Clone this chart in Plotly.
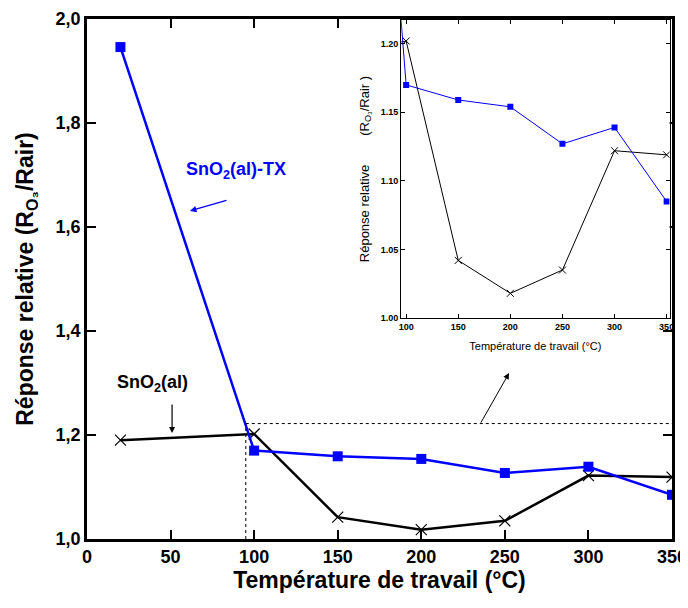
import plotly.graph_objects as go

temps = [20, 100, 150, 200, 250, 300, 350]
sno2_al = [1.190, 1.202, 1.042, 1.018, 1.035, 1.122, 1.119]
sno2_al_tx = [1.946, 1.170, 1.159, 1.154, 1.127, 1.139, 1.085]

main_x_ticks = [0, 50, 100, 150, 200, 250, 300, 350]
main_y_ticks = [1.0, 1.2, 1.4, 1.6, 1.8, 2.0]
main_y_labels = ["1,0", "1,2", "1,4", "1,6", "1,8", "2,0"]
inset_x_ticks = [100, 150, 200, 250, 300, 350]
inset_y_ticks = [1.00, 1.05, 1.10, 1.15, 1.20]
inset_y_labels = ["1.00", "1.05", "1.10", "1.15", "1.20"]

FONT = "Arial, Liberation Sans, sans-serif"
BLUE = "#0000ff"

fig = go.Figure()

# main traces
fig.add_trace(go.Scatter(x=temps, y=sno2_al, mode="lines+markers",
                         line=dict(color="black", width=2.5),
                         marker=dict(symbol="x-thin", size=11, line=dict(color="black", width=1.2)),
                         xaxis="x", yaxis="y", showlegend=False))
fig.add_trace(go.Scatter(x=temps, y=sno2_al_tx, mode="lines+markers",
                         line=dict(color=BLUE, width=2.5),
                         marker=dict(symbol="square", size=10, color=BLUE),
                         xaxis="x", yaxis="y", showlegend=False))
# inset traces
fig.add_trace(go.Scatter(x=temps, y=sno2_al, mode="lines+markers",
                         line=dict(color="black", width=1),
                         marker=dict(symbol="x-thin", size=7, line=dict(color="black", width=1)),
                         xaxis="x2", yaxis="y2", showlegend=False))
fig.add_trace(go.Scatter(x=temps, y=sno2_al_tx, mode="lines+markers",
                         line=dict(color=BLUE, width=1),
                         marker=dict(symbol="square", size=6, color=BLUE),
                         xaxis="x2", yaxis="y2", showlegend=False))

axis_common = dict(showgrid=False, zeroline=False, showline=True, linecolor="black",
                   mirror="ticks", ticks="inside", tickcolor="black", automargin=False)

fig.update_layout(
    width=680, height=600,
    margin=dict(l=79, r=16, t=11, b=69),
    paper_bgcolor="white", plot_bgcolor="white",
    font=dict(family=FONT, color="black"),
    xaxis=dict(**axis_common, domain=[0, 1], range=[0, 350], tickvals=main_x_ticks,
               linewidth=2.5, ticklen=9, tickwidth=2,
               tickfont=dict(size=18, weight="bold", family=FONT),
               title=dict(text="Température de travail (°C)", standoff=6,
                          font=dict(size=23, weight="bold", family=FONT))),
    yaxis=dict(**axis_common, domain=[0, 1], range=[1.0, 2.0], tickvals=main_y_ticks,
               ticktext=main_y_labels,
               linewidth=2.5, ticklen=9, tickwidth=2,
               tickfont=dict(size=18, weight="bold", family=FONT),
               title=dict(text="Réponse relative (R<sub>O₃</sub>/Rair)", standoff=16,
                          font=dict(size=23, weight="bold", family=FONT))),
    xaxis2=dict(**axis_common, domain=[0.537, 0.996], range=[95.2, 352.9],
                anchor="y2", tickvals=inset_x_ticks,
                linewidth=1, ticklen=4, tickwidth=1,
                tickfont=dict(size=9, weight="bold", family=FONT),
                title=dict(text="Température de travail (°C)", standoff=11,
                           font=dict(size=11, family=FONT))),
    yaxis2=dict(**axis_common, domain=[0.425, 0.998], range=[1.0, 1.2173],
                anchor="x2", tickvals=inset_y_ticks, ticktext=inset_y_labels,
                linewidth=1, ticklen=4, tickwidth=1,
                tickfont=dict(size=9, weight="bold", family=FONT),
                title=dict(text="Réponse relative&nbsp;&nbsp;&nbsp;&nbsp;&nbsp;&nbsp;&nbsp;&nbsp;(R<sub>O₃</sub>/Rair )",
                           standoff=8, font=dict(size=13, family=FONT))),
)

# dotted zoom region in main plot
fig.add_shape(type="line", xref="x", yref="y", x0=95, x1=95, y0=1.0, y1=1.222,
              line=dict(color="black", width=1, dash="dot"))
fig.add_shape(type="line", xref="x", yref="y", x0=95, x1=350, y0=1.222, y1=1.222,
              line=dict(color="black", width=1, dash="dot"))

# labels and arrows
fig.add_annotation(xref="x", yref="y", x=89, y=1.708, text="<b>SnO<sub>2</sub>(al)-TX</b>",
                   showarrow=False, font=dict(size=18, color=BLUE, family=FONT))
fig.add_annotation(xref="x", yref="y", x=61.6, y=1.631, text="", showarrow=True,
                   ax=38, ay=-11, arrowhead=2, arrowsize=1, arrowwidth=1.3, arrowcolor=BLUE)
fig.add_annotation(xref="x", yref="y", x=39, y=1.300, text="<b>SnO<sub>2</sub>(al)</b>",
                   showarrow=False, font=dict(size=18, color="black", family=FONT))
fig.add_annotation(xref="x", yref="y", x=50.9, y=1.204, text="", showarrow=True,
                   ax=0, ay=-30, arrowhead=2, arrowsize=1, arrowwidth=1.2, arrowcolor="black")
fig.add_annotation(xref="x", yref="y", x=252.5, y=1.319, text="", showarrow=True,
                   ax=-29, ay=51, arrowhead=2, arrowsize=1.2, arrowwidth=1, arrowcolor="black")

fig.write_html("out.html")
